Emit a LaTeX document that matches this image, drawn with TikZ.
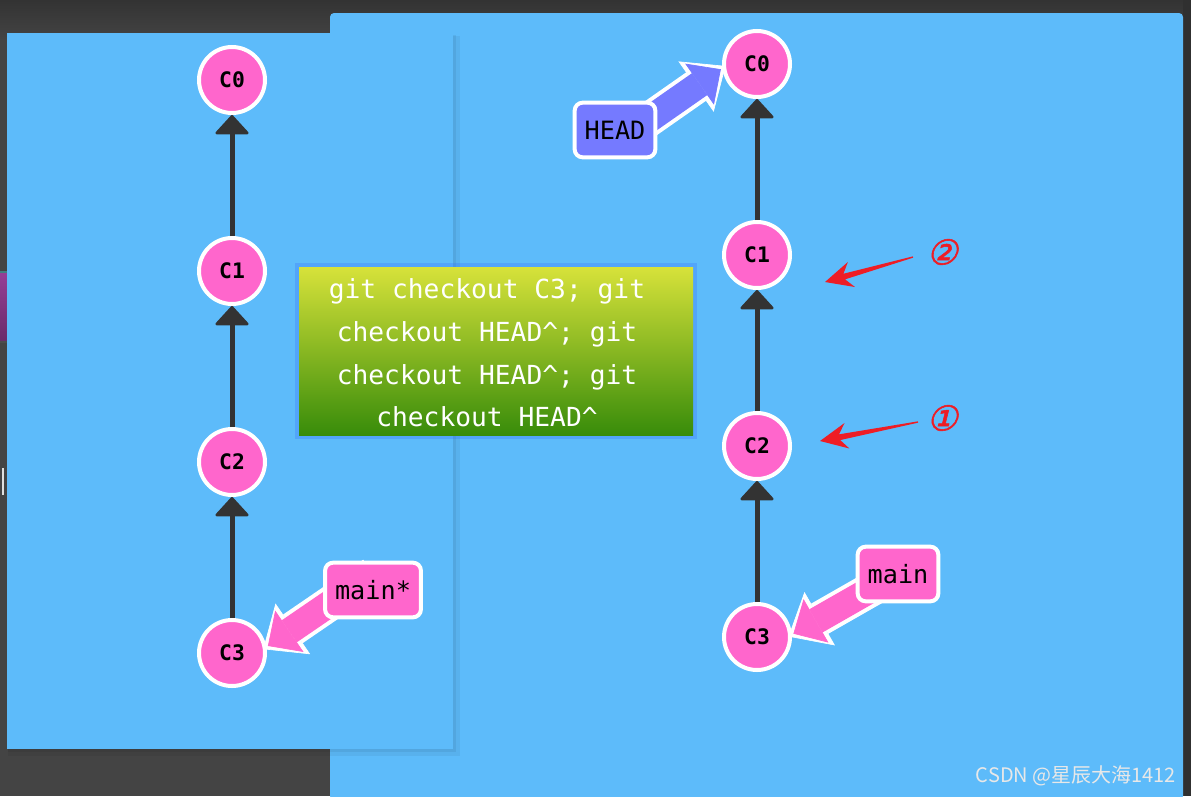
\documentclass[tikz,border=0pt]{standalone}
\usepackage{fontspec}
\setmonofont{DejaVu Sans Mono}
\newfontfamily\cjkfont{Noto Sans CJK SC}
\newfontfamily\markfont[FakeSlant=0.25,FakeBold=1.5]{DejaVu Sans}
\usetikzlibrary{arrows.meta,positioning,calc}
\definecolor{board}{RGB}{93,187,250}
\definecolor{frame}{RGB}{68,68,68}
\definecolor{commitpink}{RGB}{255,102,204}
\definecolor{headblue}{RGB}{117,122,255}
\definecolor{edge}{RGB}{51,51,51}
\definecolor{markred}{RGB}{238,29,37}
\definecolor{cmdtop}{RGB}{215,226,58}
\definecolor{cmdbot}{RGB}{56,140,10}
\definecolor{strip}{RGB}{150,62,150}
\tikzstyle{commit}=[circle,draw=white,line width=3pt,fill=commitpink,minimum size=49.5pt,inner sep=0pt,font=\ttfamily\bfseries\fontsize{16}{16}\selectfont]
\tikzstyle{branch}=[rectangle,draw=white,line width=3pt,rounded corners=6pt,fill=commitpink,minimum height=41pt,inner xsep=7.5pt,font=\ttfamily\fontsize{18.9}{20}\selectfont]
\tikzstyle{headbox}=[branch,fill=headblue]
\tikzstyle{parent}=[draw=edge,line width=3.75pt,-{Triangle[width=27pt,length=15pt,line width=2pt,round]}]
\tikzstyle{reflink}=[line width=20pt,-{Triangle[width=37.5pt,length=19.5pt,line width=0.5pt]},shorten >=1.3pt,preaction={draw=white,line width=26pt,-{Triangle[width=46pt,length=27pt,line width=0.5pt]},shorten >=-3pt}]
\tikzstyle{cmdtext}=[text=white,align=center,font=\ttfamily\fontsize{19.7}{32}\selectfont]
\tikzstyle{num}=[text=markred,font=\markfont\fontsize{26}{26}\selectfont]
% red hand-drawn pointer: tail, tip
\newcommand{\markarrow}[2]{%
  \coordinate (mj) at ($(#2)!15pt!(#1)$);
  \coordinate (mb) at ($(#2)!20.6pt!(#1)$);
  \fill[markred] ($(#1)!0.5pt!90:(#2)$) -- ($(mj)!2.2pt!90:(#2)$) -- ($(mb)!9.75pt!90:(#2)$) -- (#2)
    -- ($(mb)!9.75pt!-90:(#2)$) -- ($(mj)!2.2pt!-90:(#2)$) -- ($(#1)!0.5pt!-90:(#2)$) -- cycle;}
\pgfdeclarelayer{panel}
\pgfdeclarelayer{links}
\pgfdeclarelayer{labels}
\pgfsetlayers{panel,main,links,labels}

\begin{document}
\begin{tikzpicture}[x=0.75pt,y=-0.75pt,node distance=90.75pt]
\useasboundingbox (0,0) rectangle (1191,796);
\begin{pgfonlayer}{panel}
\fill[frame] (0,0) rectangle (1191,796);
\shade[top color=frame!75!black,bottom color=frame] (0,0) rectangle (1191,40);
\fill[frame!70!black] (1183,0) rectangle (1191,796);
\shade[top color=strip,bottom color=strip!70!black] (0,272) rectangle (7,342);
\fill[teal!50!gray] (0,271) rectangle (7,273);
\fill[black!70] (0,341) rectangle (7,343);
\fill[white!75!gray] (2,468) rectangle (4,495);
% right board
\fill[board,rounded corners=3pt] (330,13) rectangle (1183,800);
% left board
\fill[black,opacity=0.05] (8,36) rectangle (460,756);
\fill[black,opacity=0.06] (8,35) rectangle (456,752);
\fill[board] (7,33) rectangle (453,749);
% command box
\fill[blue!45!board,opacity=0.25] (295,263) rectangle (697,439);
\shade[top color=cmdtop,bottom color=cmdbot] (299,267) rectangle (693,435);
\end{pgfonlayer}

\node[commit] (l0) at (232,80) {C0};
\node[commit, below=of l0] (l1) {C1};
\node[commit, below=of l1] (l2) {C2};
\node[commit, below=of l2] (l3) {C3};
\node[commit] (r0) at (757,64) {C0};
\node[commit, below=of r0] (r1) {C1};
\node[commit, below=of r1] (r2) {C2};
\node[commit, below=of r2] (r3) {C3};
\draw[parent] (l1) -- (l0);
\draw[parent] (l2) -- (l1);
\draw[parent] (l3) -- (l2);
\draw[parent] (r1) -- (r0);
\draw[parent] (r2) -- (r1);
\draw[parent] (r3) -- (r2);

\node[cmdtext] (cmd) at (487,353) {git checkout C3; git\\checkout HEAD\textasciicircum; git\\checkout HEAD\textasciicircum; git\\checkout HEAD\textasciicircum};

\begin{pgfonlayer}{labels}
\node[branch] (mainL) at (373,590) {main*};
\node[branch] (mainR) at (898,574) {main};
\node[headbox] (head) at (615,130) {HEAD};
\end{pgfonlayer}
\begin{pgfonlayer}{links}
\draw[reflink,draw=commitpink] ([yshift=12pt]mainL.center) -- (l3.10);
\draw[reflink,draw=commitpink] (mainR.center) -- (r3.4);
\draw[reflink,draw=headblue] ([yshift=-10pt]head.center) -- (r0.187);
\end{pgfonlayer}

\node[num] (n2) at (942,252) {②};
\node[num] (n1) at (942,418) {①};
\coordinate (p2) at (825,282);
\coordinate (q2) at (913,257);
\coordinate (p1) at (820,441);
\coordinate (q1) at (918,422);
\markarrow{q2}{p2}
\markarrow{q1}{p1}

\node[text=white!82!gray,font=\cjkfont\fontsize{15}{15}\selectfont] (wm) at (1076,776) {CSDN @星辰大海1412};
\end{tikzpicture}
\end{document}
